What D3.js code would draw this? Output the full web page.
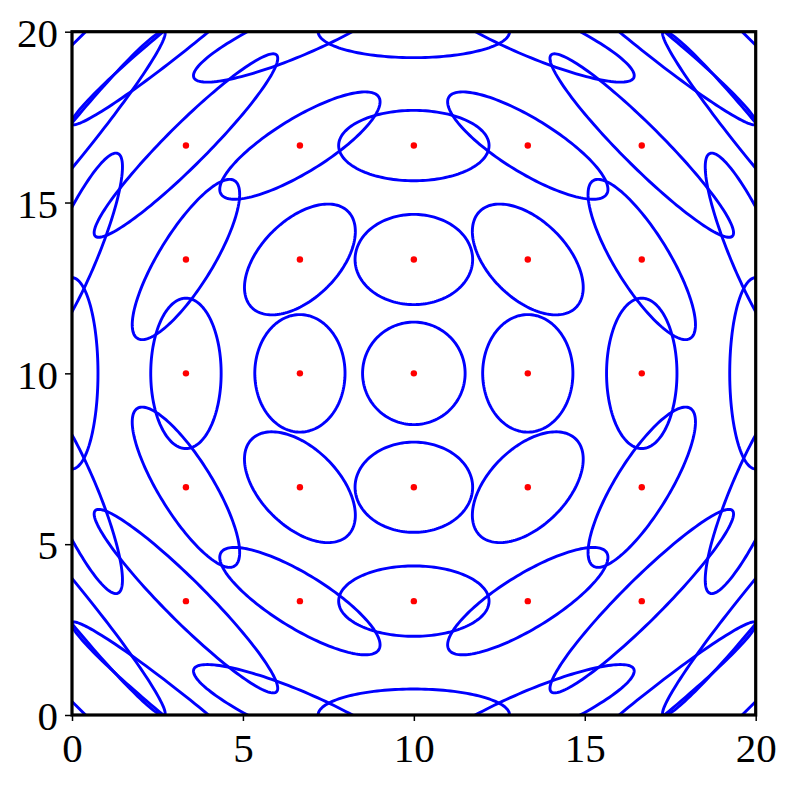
<!DOCTYPE html>
<html>
  <head>
    <meta charset="UTF-8" />
    <script src="https://cdn.jsdelivr.net/npm/d3@7"></script>
    <style>
      body { margin: 0; background: #fff; }
      .tick text { font-family: "Liberation Serif", serif; font-size: 41px; fill: #000; }
    </style>
  </head>
  <body>
    <svg id="chart" width="793" height="787"></svg>
    <script>
      // grid of ellipse centres (data units)
      var gridX = [0, 3.333, 6.667, 10, 13.333, 16.667, 20];
      var gridY = [0, 3.333, 6.667, 10, 13.333, 16.667, 20];
      // red dots sit on the interior points
      var dotX = [3.333, 6.667, 10, 13.333, 16.667];
      var dotY = [3.333, 6.667, 10, 13.333, 16.667];

      // ellipse shapes, one per octant class
      // offset (u, v) in grid steps from the centre, u >= v >= 0
      var shapeU     = [0,   1,    1,    2,    2,    2,    3,    3,    3,    3];
      var shapeV     = [0,   0,    1,    0,    1,    2,    0,    1,    2,    3];
      var semiMajor  = [1.5, 1.72, 1.99, 2.2,  2.71, 3.75, 2.8,  3.38, 4.3,  8.0];
      var semiMinor  = [1.5, 1.32, 1.14, 1.03, 0.79, 0.6,  0.76, 0.67, 0.42, 0.28];
      var majorAngle = [90,  90,   -45,  90,   -58.4, -45, 90,   -66.6, -51, -45]; // degrees

      var xTicks = [0, 5, 10, 15, 20];
      var yTicks = [0, 5, 10, 15, 20];

      var svg = d3.select("#chart");

      var x = d3.scaleLinear().domain([0, 20]).range([72, 755.7]);
      var y = d3.scaleLinear().domain([0, 20]).range([715, 31.7]);

      svg.append("defs").append("clipPath").attr("id", "clip")
        .append("rect")
        .attr("x", x(0)).attr("y", y(20))
        .attr("width", x(20) - x(0)).attr("height", y(0) - y(20));

      function shapeFor(i, j) {
        var du = i - 3, dv = j - 3;
        var u = Math.abs(du), v = Math.abs(dv), swap = false;
        if (v > u) { var t = u; u = v; v = t; swap = true; }
        var k = 0;
        for (var n = 0; n < shapeU.length; n++) {
          if (shapeU[n] === u && shapeV[n] === v) k = n;
        }
        var th = majorAngle[k] * Math.PI / 180;
        var ex = Math.cos(th), ey = Math.sin(th);
        if (swap) { var s = ex; ex = ey; ey = s; }
        if (du < 0) ex = -ex;
        if (dv < 0) ey = -ey;
        return { a: semiMajor[k], b: semiMinor[k], ex: ex, ey: ey };
      }

      var ellipses = [];
      gridX.forEach(function(cx, i) {
        gridY.forEach(function(cy, j) {
          var s = shapeFor(i, j);
          var pts = d3.range(0, 160).map(function(q) {
            var p = q / 160 * 2 * Math.PI;
            var ca = s.a * Math.cos(p), sb = s.b * Math.sin(p);
            return [cx + ca * s.ex - sb * s.ey, cy + ca * s.ey + sb * s.ex];
          });
          ellipses.push(pts);
        });
      });

      var line = d3.line()
        .x(function(d) { return x(d[0]); })
        .y(function(d) { return y(d[1]); })
        .curve(d3.curveLinearClosed);

      var plot = svg.append("g").attr("clip-path", "url(#clip)");

      plot.selectAll("path.ell")
        .data(ellipses)
        .enter().append("path")
        .attr("class", "ell")
        .attr("d", line)
        .attr("fill", "none")
        .attr("stroke", "#0000ff")
        .attr("stroke-width", 2.9);

      var dots = [];
      dotX.forEach(function(dx) { dotY.forEach(function(dy) { dots.push([dx, dy]); }); });

      plot.selectAll("circle")
        .data(dots)
        .enter().append("circle")
        .attr("cx", function(d) { return x(d[0]); })
        .attr("cy", function(d) { return y(d[1]); })
        .attr("r", 3.2)
        .attr("fill", "#ff0000");

      var xAxis = svg.append("g")
        .attr("transform", "translate(0," + y(0) + ")")
        .call(d3.axisBottom(x).tickValues(xTicks).tickSize(6).tickSizeOuter(0).tickPadding(12));
      var yAxis = svg.append("g")
        .attr("transform", "translate(" + x(0) + ",0)")
        .call(d3.axisLeft(y).tickValues(yTicks).tickSize(7).tickSizeOuter(0).tickPadding(7));

      [xAxis, yAxis].forEach(function(g) {
        g.select(".domain").remove();
        g.selectAll(".tick line").attr("stroke", "#000").attr("stroke-width", 1.5);
      });
      yAxis.selectAll(".tick text").attr("dy", "0.36em");

      svg.append("rect")
        .attr("x", x(0)).attr("y", y(20))
        .attr("width", x(20) - x(0)).attr("height", y(0) - y(20))
        .attr("fill", "none")
        .attr("stroke", "#000")
        .attr("stroke-width", 3.2);
    </script>
  </body>
</html>
